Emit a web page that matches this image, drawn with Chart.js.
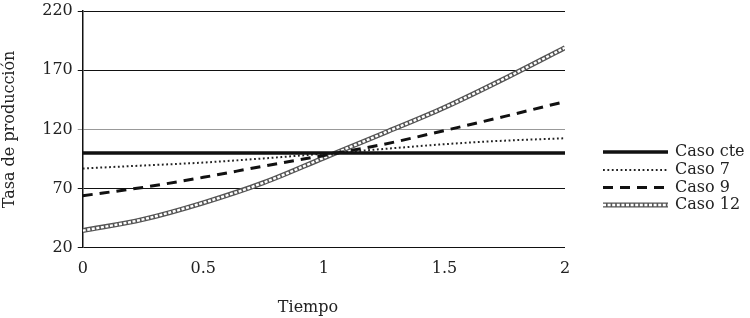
<!DOCTYPE html>
<html>
<head>
<meta charset="utf-8">
<script src="https://cdn.jsdelivr.net/npm/chart.js@4/dist/chart.umd.min.js"></script>
<style>
  html, body { margin: 0; padding: 0; background: #fff; }
  #wrap { width: 750px; height: 318px; }
</style>
</head>
<body>
<div id="wrap"><canvas id="grafico"></canvas></div>
<script>
// datos
const tiempo = [0, 0.25, 0.5, 0.75, 1, 1.25, 1.5, 1.75, 2]
const casoCte = [100, 100, 100, 100, 100, 100, 100, 100, 100]
const caso7 = [87, 89.5, 92, 95.5, 99.5, 103.5, 107.5, 110.5, 112.5]
const caso9 = [64, 71, 79.5, 89, 98, 107.5, 119, 131, 143.5]
const caso12 = [34.5, 44, 58, 75, 96, 117, 138.5, 163, 189]

const nombres = ['Caso cte', 'Caso 7', 'Caso 9', 'Caso 12']
const yTicks = [20, 70, 120, 170, 220]
const xTicks = [0, 0.5, 1, 1.5, 2]

const FONT = 'DejaVu Serif'
const toPoints = (vals) => vals.map((v, i) => ({ x: tiempo[i], y: v }))

// estilos de linea (cadena de rombos para Caso 12 = linea gruesa + guiones blancos)
const estilos = [
  { color: '#111', width: 3.5, dash: [] },
  { color: '#222', width: 2, dash: [1.8, 2.6] },
  { color: '#111', width: 3, dash: [10, 7] },
  { color: '#555', width: 5, dash: [], inner: { color: '#fff', width: 2.4, dash: [3, 1.6] } }
]

const lineDs = (label, vals, st, order) => ({
  label,
  data: toPoints(vals),
  borderColor: st.color,
  borderWidth: st.width,
  borderDash: st.dash,
  pointRadius: 0,
  fill: false,
  cubicInterpolationMode: 'monotone',
  order
})

// leyenda a la derecha y titulo del eje x (descentrado como en el original)
const extrasPlugin = {
  id: 'leyendaLineas',
  afterDraw (chart) {
    const ctx = chart.ctx
    const ys = [152, 170, 187.5, 205]
    ctx.save()
    ctx.font = '16px "' + FONT + '"'
    ctx.fillStyle = '#222'
    ctx.textBaseline = 'middle'
    nombres.forEach((name, i) => {
      const st = estilos[i]
      const y = ys[i]
      const strokeSample = (s) => {
        ctx.beginPath()
        ctx.setLineDash(s.dash)
        ctx.lineWidth = s.width
        ctx.strokeStyle = s.color
        ctx.moveTo(603, y)
        ctx.lineTo(668, y)
        ctx.stroke()
      }
      strokeSample(st)
      if (st.inner) strokeSample(st.inner)
      ctx.setLineDash([])
      ctx.textAlign = 'left'
      ctx.fillText(name, 675, y)
    })
    ctx.textAlign = 'center'
    ctx.fillText('Tiempo', 308, 308)
    ctx.restore()
  }
}

new Chart(document.getElementById('grafico'), {
  type: 'line',
  data: {
    datasets: [
      lineDs(nombres[0], casoCte, estilos[0], 0),
      lineDs(nombres[1], caso7, estilos[1], 1),
      lineDs(nombres[2], caso9, estilos[2], 2),
      lineDs('Caso 12 interior', caso12, estilos[3].inner, 3),
      lineDs(nombres[3], caso12, estilos[3], 4)
    ]
  },
  options: {
    responsive: true,
    maintainAspectRatio: false,
    animation: false,
    layout: { padding: { top: 0, right: 185, bottom: 29, left: 0 } },
    plugins: {
      legend: { display: false },
      tooltip: { enabled: false }
    },
    scales: {
      x: {
        type: 'linear',
        min: 0,
        max: 2,
        afterBuildTicks: (axis) => { axis.ticks = xTicks.map(v => ({ value: v })) },
        grid: { display: false, drawTicks: false },
        border: { display: false },
        ticks: {
          color: '#222',
          padding: 11,
          maxRotation: 0,
          callback: (v) => String(v),
          font: { family: FONT, size: 16 }
        }
      },
      y: {
        min: 20,
        max: 220,
        afterBuildTicks: (axis) => { axis.ticks = yTicks.map(v => ({ value: v })) },
        grid: {
          color: (c) => (c.tick && c.tick.value === 120 ? '#999' : '#111'),
          lineWidth: 1,
          tickLength: 5
        },
        border: { display: true, color: '#111', width: 1.5 },
        ticks: {
          color: '#222',
          padding: 5,
          font: { family: FONT, size: 16, lineHeight: 0.75 }
        },
        title: {
          display: true,
          text: 'Tasa de producción',
          color: '#222',
          padding: { top: 0, bottom: 18 },
          font: { family: FONT, size: 16 }
        }
      }
    }
  },
  plugins: [extrasPlugin]
})
</script>
</body>
</html>
